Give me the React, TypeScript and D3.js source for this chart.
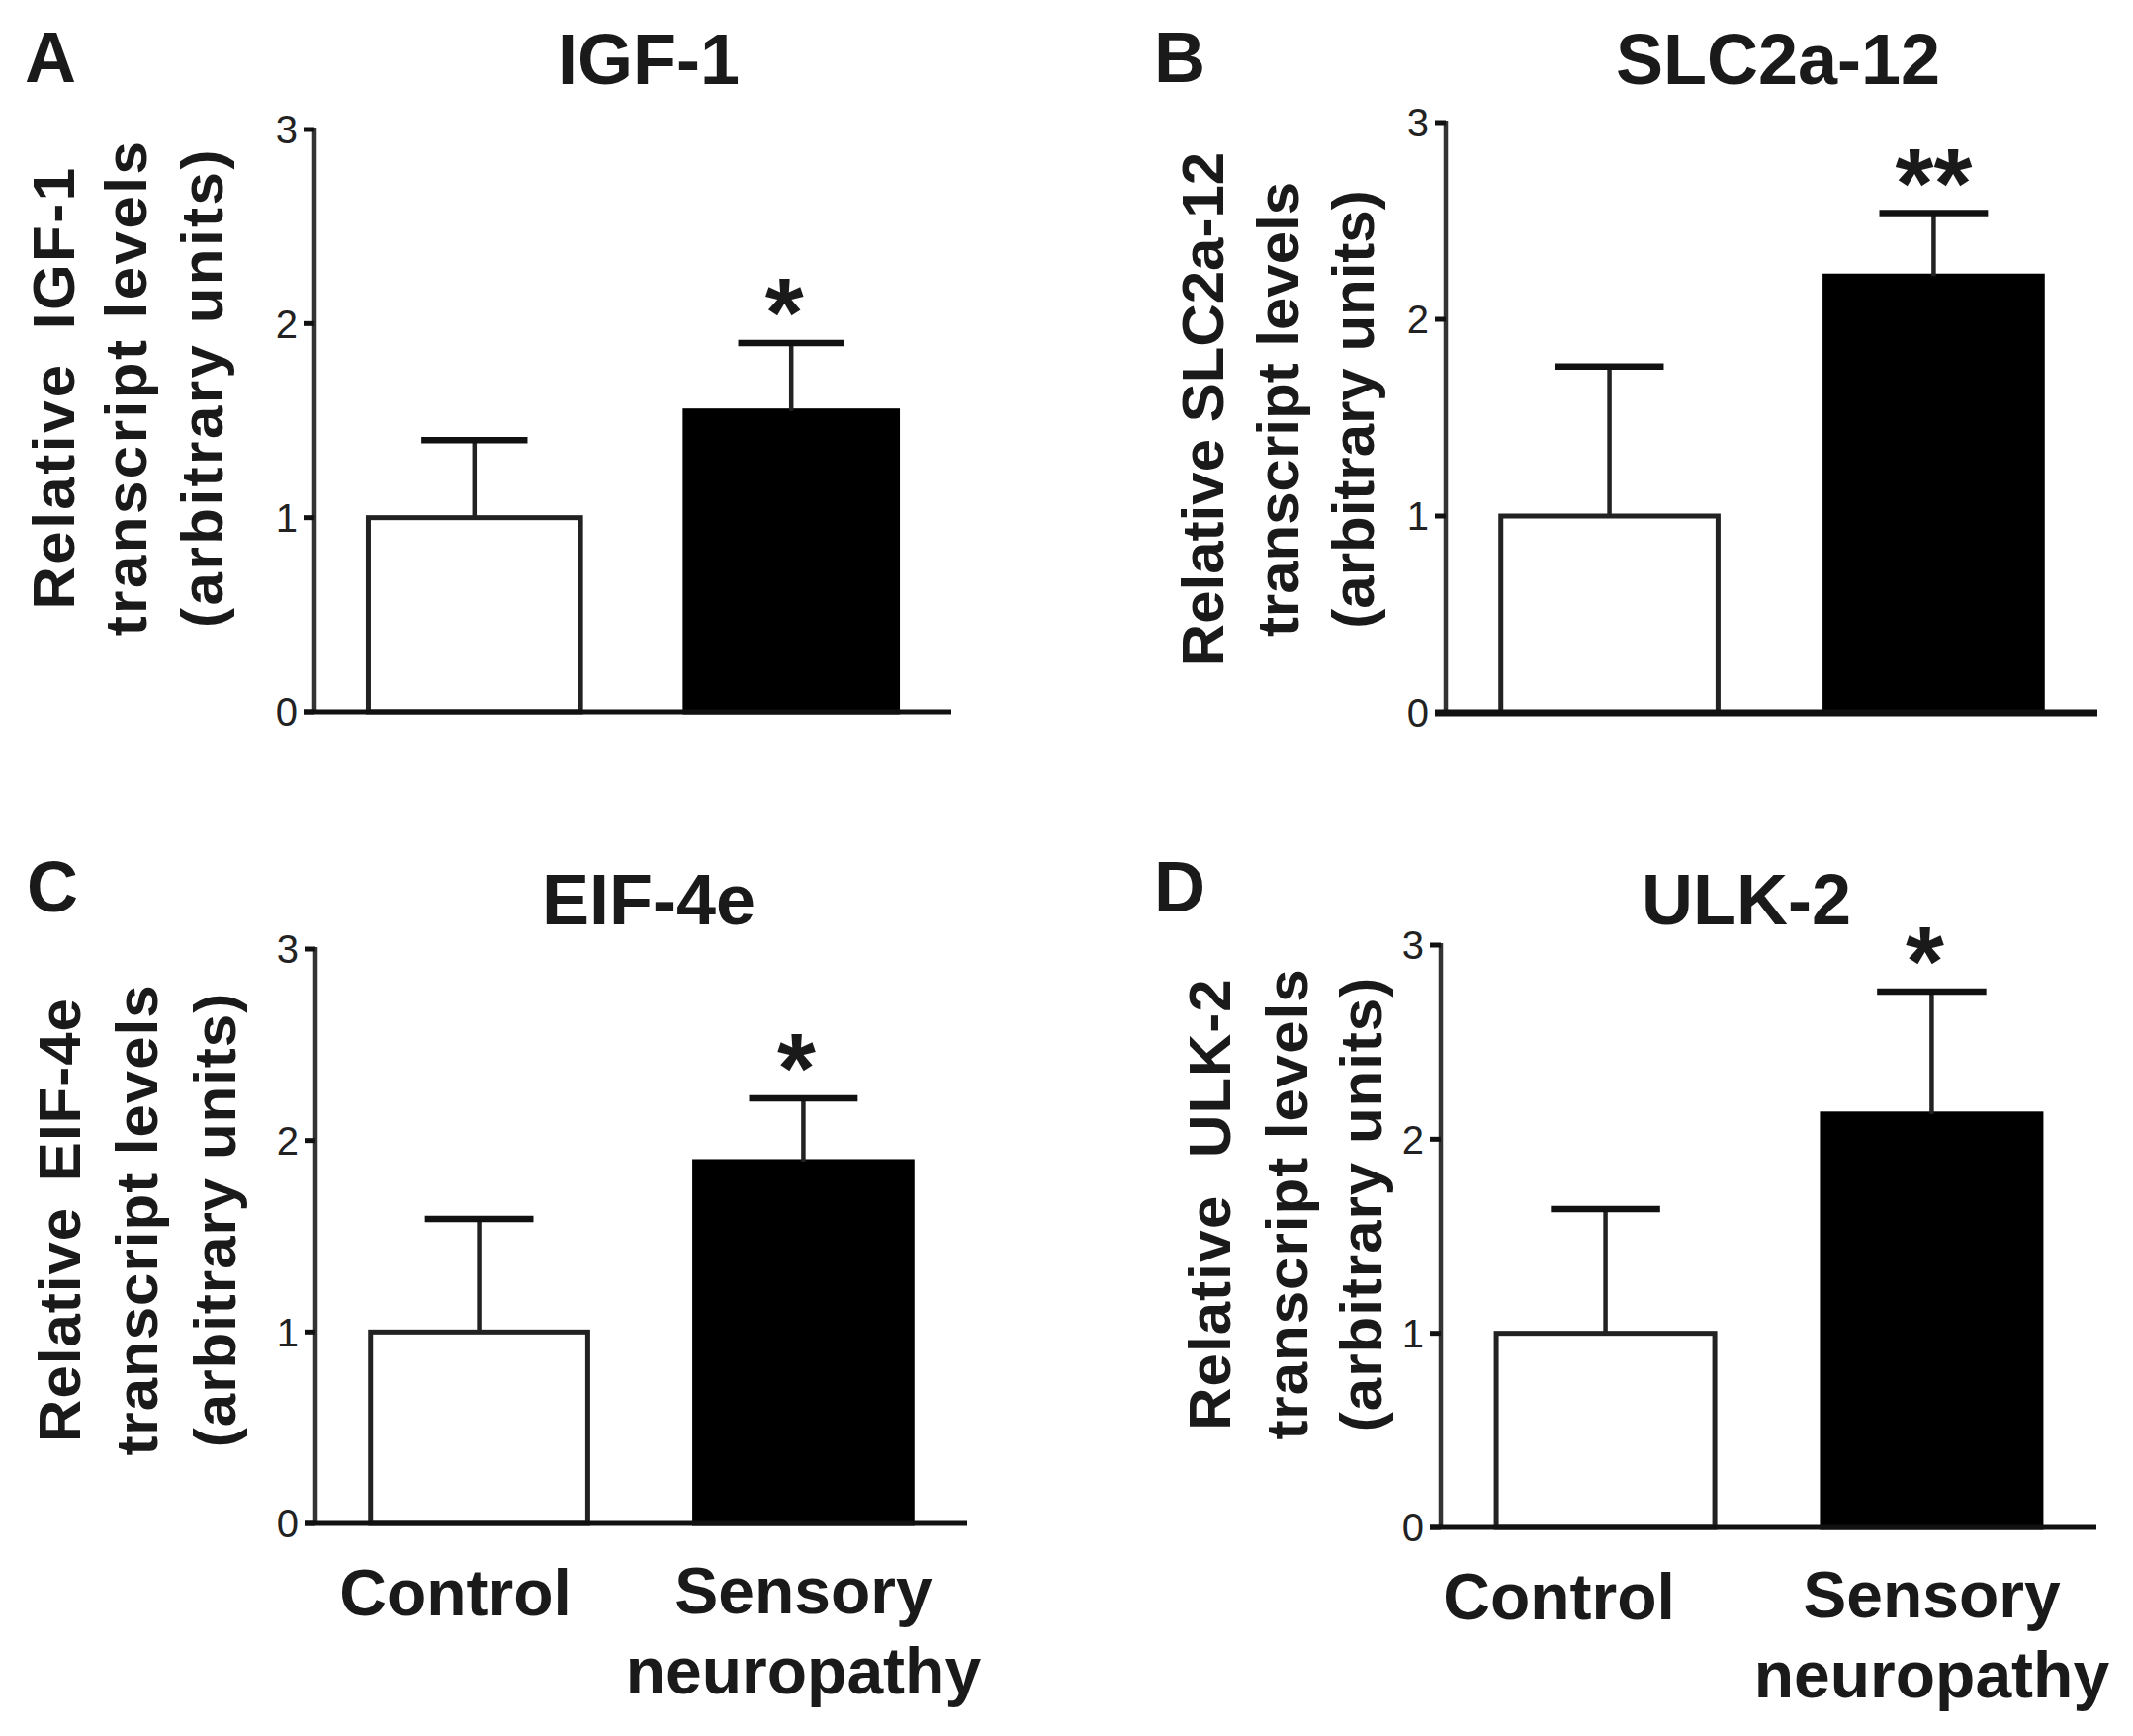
import React from "react";
import * as d3 from "d3";

// ---------- data ----------
const GROUPS = ["Control", "Sensory neuropathy"];
const GENES = ["IGF-1", "SLC2a-12", "EIF-4e", "ULK-2"];
const PANEL_LETTERS = ["A", "B", "C", "D"];
const CONTROL_MEAN = [1.0, 1.0, 1.0, 1.0];
const CONTROL_SEM = [0.4, 0.76, 0.59, 0.64];
const NEURO_MEAN = [1.55, 2.22, 1.89, 2.13];
const NEURO_SEM = [0.35, 0.32, 0.33, 0.63];
const SIGNIFICANCE = ["*", "**", "*", "*"];
const Y_TICKS = [0, 1, 2, 3];
const Y_LABEL_TAIL = ["transcript levels", "(arbitrary units)"];

// ---------- layout ----------
const LAYOUT = [
  { axisX: 318, xEnd: 962, y0: 720, y3: 131, letterX: 25, letterY: 83, titleX: 656, titleY: 85, labelX: [54, 127, 204], labelY: 392, ls: 2.5, ws: 14, xLabels: false, ctrlDx: 0, baseW: 5 },
  { axisX: 1462, xEnd: 2121, y0: 721, y3: 124, letterX: 1167, letterY: 83, titleX: 1798, titleY: 85, labelX: [1216, 1292, 1368], labelY: 414, ls: 0, ws: 0, xLabels: false, ctrlDx: 0, baseW: 7 },
  { axisX: 319, xEnd: 978, y0: 1541, y3: 960, letterX: 27, letterY: 922, titleX: 656, titleY: 935, labelX: [60, 138, 217], labelY: 1234, ls: 1, ws: 8, xLabels: true, ctrlDx: -24, baseW: 5 },
  { axisX: 1457, xEnd: 2120, y0: 1545, y3: 956, letterX: 1167, letterY: 922, titleX: 1766, titleY: 935, labelX: [1223, 1301, 1376], labelY: 1218, ls: 1, ws: 20, xLabels: true, ctrlDx: -47, baseW: 5 },
];

const FONT = "'Liberation Sans', Arial, Helvetica, sans-serif";
const INK = "#1a1a1a";

function Panel({ i }: { i: number }) {
  const L = LAYOUT[i];
  const y = d3.scaleLinear().domain([0, 3]).range([L.y0, L.y3]);
  const x = d3
    .scaleBand<string>()
    .domain(GROUPS)
    .range([L.axisX, L.xEnd])
    .paddingInner(0.33)
    .paddingOuter(0.17);
  const bw = x.bandwidth();
  const means = [CONTROL_MEAN[i], NEURO_MEAN[i]];
  const sems = [CONTROL_SEM[i], NEURO_SEM[i]];
  const labelLines = [`Relative ${GENES[i]}`, ...Y_LABEL_TAIL];
  const starDx = SIGNIFICANCE[i].length === 1 ? -7 : 0;

  return (
    <g>
      <text x={L.letterX} y={L.letterY} fontFamily={FONT} fontWeight="bold" fontSize={72} fill={INK}>
        {PANEL_LETTERS[i]}
      </text>
      <text x={L.titleX} y={L.titleY} textAnchor="middle" fontFamily={FONT} fontWeight="bold" fontSize={72} fill={INK}>
        {GENES[i]}
      </text>

      {labelLines.map((t, k) => (
        <text
          key={k}
          transform={`translate(${L.labelX[k]},${L.labelY}) rotate(-90)`}
          textAnchor="middle"
          dy="0.35em"
          fontFamily={FONT}
          fontWeight="bold"
          fontSize={60}
          letterSpacing={L.ls}
          wordSpacing={k === 0 ? L.ws : 0}
          fill={INK}
        >
          {t}
        </text>
      ))}

      {/* bars */}
      {GROUPS.map((g, k) => {
        const x0 = x(g)!;
        const top = y(means[k]);
        return (
          <rect
            key={g}
            x={x0}
            y={top}
            width={bw}
            height={y(0) - top}
            fill={k === 0 ? "#ffffff" : "#000000"}
            stroke={k === 0 ? "#222" : "#000"}
            strokeWidth={5}
          />
        );
      })}

      {/* error bars */}
      {GROUPS.map((g, k) => {
        const cx = x(g)! + bw / 2;
        const top = y(means[k]);
        const err = y(means[k] + sems[k]);
        return (
          <g key={g + "e"}>
            <line x1={cx} x2={cx} y1={top} y2={err} stroke="#222" strokeWidth={4.5} />
            <line x1={cx - bw / 4} x2={cx + bw / 4} y1={err} y2={err} stroke="#111" strokeWidth={6.5} />
          </g>
        );
      })}

      {/* significance */}
      <text
        x={x(GROUPS[1])! + bw / 2 + starDx}
        y={y(NEURO_MEAN[i] + NEURO_SEM[i]) + 4}
        textAnchor="middle"
        fontFamily={FONT}
        fontWeight="bold"
        fontSize={100}
        fill={INK}
      >
        {SIGNIFICANCE[i]}
      </text>

      {/* y axis */}
      <line x1={L.axisX} x2={L.axisX} y1={y(3) - 2} y2={y(0)} stroke="#333" strokeWidth={4.5} />
      {Y_TICKS.map((t) => (
        <g key={t}>
          <line x1={L.axisX - 11} x2={L.axisX} y1={y(t)} y2={y(t)} stroke="#111" strokeWidth={5} />
          <text
            x={L.axisX - 17}
            y={y(t)}
            dy="0.36em"
            textAnchor="end"
            fontFamily={FONT}
            fontSize={40}
            fill="#222"
          >
            {t}
          </text>
        </g>
      ))}
      {/* x baseline */}
      <line x1={L.axisX - 11} x2={L.xEnd} y1={y(0)} y2={y(0)} stroke="#111" strokeWidth={L.baseW} />

      {L.xLabels && (
        <g fontFamily={FONT} fontWeight="bold" fontSize={66} fill={INK} textAnchor="middle">
          <text x={x(GROUPS[0])! + bw / 2 + L.ctrlDx} y={y(0) + 93}>
            {GROUPS[0]}
          </text>
          <text x={x(GROUPS[1])! + bw / 2} y={y(0) + 91}>
            Sensory
          </text>
          <text x={x(GROUPS[1])! + bw / 2} y={y(0) + 172}>
            neuropathy
          </text>
        </g>
      )}
    </g>
  );
}

export default function App() {
  return (
    <svg
      width={2157}
      height={1756}
      viewBox="0 0 2157 1756"
      style={{ position: "absolute", left: 0, top: 0, background: "#fff" }}
    >
      <rect x={0} y={0} width={2157} height={1756} fill="#fff" />
      {GENES.map((_, i) => (
        <Panel key={i} i={i} />
      ))}
    </svg>
  );
}
